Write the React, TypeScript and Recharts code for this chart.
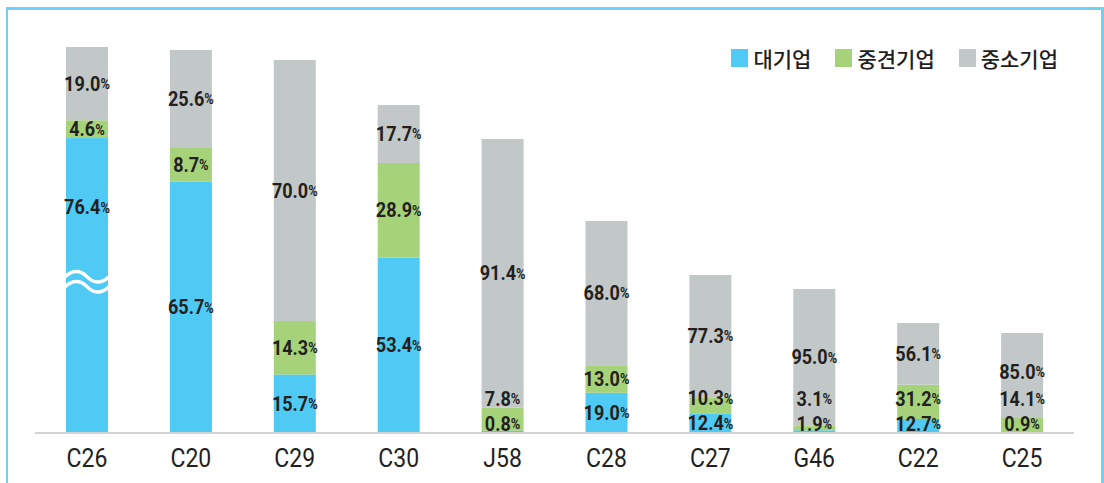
import { Bar, BarChart, XAxis, YAxis } from "recharts"

const categories = ["C26", "C20", "C29", "C30", "J58", "C28", "C27", "G46", "C22", "C25"]
// relative bar height (C25 = 100); C26 is drawn cut off
const barTotals = [386, 383, 373, 328, 294, 212, 158, 144, 110, 100]
const largePct = [76.4, 65.7, 15.7, 53.4, 0.8, 19.0, 12.4, 1.9, 12.7, 0.9]
const midPct = [4.6, 8.7, 14.3, 28.9, 7.8, 13.0, 10.3, 3.1, 31.2, 14.1]
const smallPct = [19.0, 25.6, 70.0, 17.7, 91.4, 68.0, 77.3, 95.0, 56.1, 85.0]
const brokenCategory = "C26"

const seriesNames = ["대기업", "중견기업", "중소기업"]

const COLORS = {
  large: "#4ecaf4",
  mid: "#a6d279",
  small: "#c2c7c7",
}

const rows = categories.map((name, i) => ({
  name,
  large: (barTotals[i] * largePct[i]) / 100,
  mid: (barTotals[i] * midPct[i]) / 100,
  small: (barTotals[i] * smallPct[i]) / 100,
  largePct: largePct[i],
  midPct: midPct[i],
  smallPct: smallPct[i],
  broken: name === brokenCategory,
}))

const BREAK_AT = 0.47
const FONT = "Roboto, sans-serif"
const TEXT = "#231f20"

function wave(x: number, w: number, y0: number) {
  return `M ${x - 1} ${y0} C ${x + w * 0.15} ${y0 - 7}, ${x + w * 0.35} ${y0 - 7}, ${x + w * 0.5} ${y0} C ${x + w * 0.65} ${y0 + 7}, ${x + w * 0.85} ${y0 + 7}, ${x + w + 1} ${y0}`
}

function LargeShape(props: any) {
  const { x, y, width, height, fill, payload } = props
  const yb = y + height * BREAK_AT
  return (
    <g>
      <rect x={x} y={y} width={width} height={height} fill={fill} />
      {payload.broken && (
        <g fill="none" stroke="#fff" strokeWidth={3.5}>
          <path d={wave(x, width, yb)} />
          <path d={wave(x, width, yb + 10)} />
        </g>
      )}
    </g>
  )
}

// narrow the font a bit, the original uses a condensed DIN-like face
function PctText({ x, y, v }: { x: number; y: number; v: number }) {
  return (
    <g transform={`translate(${x} ${y}) scale(0.86 1)`}>
      <text
        x={0}
        y={0}
        textAnchor="middle"
        dominantBaseline="central"
        fill={TEXT}
        fontFamily={FONT}
        fontWeight={700}
        fontSize={21}
      >
        {v.toFixed(1)}
        <tspan fontSize={15}>%</tspan>
      </text>
    </g>
  )
}

function CatTick(props: any) {
  const { x, y, payload } = props
  return (
    <g transform={`translate(${x} ${y}) scale(0.92 1)`}>
      <text x={0} y={0} dy="0.71em" textAnchor="middle" fill={TEXT} fontFamily={FONT} fontSize={25}>
        {payload.value}
      </text>
    </g>
  )
}

// top segment: draws its rect, then every label of the stack so they sit above all bars
function SmallShape(props: any) {
  const { x, y, width, height, fill, payload } = props
  const ppu = height / payload.small
  const lh = payload.large * ppu
  const mh = payload.mid * ppu
  const base = y + height + lh + mh
  const cx = x + width / 2

  let largeY = Math.min(base - lh / 2, base - 9)
  if (payload.broken) largeY = base - lh + (lh * BREAK_AT) / 2
  const midY = Math.min(base - lh - mh / 2, largeY - 25)
  const smallY = Math.min(y + height / 2, midY - 27)

  return (
    <g>
      <rect x={x} y={y} width={width} height={height} fill={fill} />
      <PctText x={cx} y={smallY} v={payload.smallPct} />
      <PctText x={cx} y={midY} v={payload.midPct} />
      <PctText x={cx} y={largeY} v={payload.largePct} />
    </g>
  )
}

function LegendBox() {
  const colors = [COLORS.large, COLORS.mid, COLORS.small]
  return (
    <div
      style={{
        position: "absolute",
        top: 43,
        right: 46,
        display: "flex",
        alignItems: "center",
        gap: 24,
        fontFamily: "'Noto Sans CJK KR', sans-serif",
        fontWeight: 500,
        fontSize: 21,
        color: TEXT,
      }}
    >
      {seriesNames.map((n, i) => (
        <div key={n} style={{ display: "flex", alignItems: "center", gap: 5 }}>
          <span style={{ width: 17, height: 18, background: colors[i], display: "inline-block" }} />
          <span>{n}</span>
        </div>
      ))}
    </div>
  )
}

export default function App() {
  return (
    <div style={{ position: "absolute", left: 0, top: 0, width: 1104, height: 483, background: "#fff", overflow: "hidden" }}>
      <div
        style={{
          position: "absolute",
          left: 6,
          top: 7,
          width: 1098,
          height: 500,
          boxSizing: "border-box",
          borderLeft: "2px solid #6fd0f6",
          borderTop: "3px solid #6fd0f6",
          borderRight: "3px solid #6fd0f6",
        }}
      />
      <BarChart
        width={1104}
        height={483}
        data={rows}
        margin={{ top: 33, right: 30, left: 35, bottom: 0 }}
        barSize={42}
        style={{ position: "absolute", left: 0, top: 0 }}
      >
        <XAxis
          dataKey="name"
          height={50}
          tickLine={false}
          tickMargin={10}
          axisLine={{ stroke: "#d2d2d2", strokeWidth: 2 }}
          tick={<CatTick />}
          interval={0}
        />
        <YAxis hide domain={[0, 400]} />
        <Bar dataKey="large" stackId="a" fill={COLORS.large} shape={LargeShape} isAnimationActive={false} />
        <Bar dataKey="mid" stackId="a" fill={COLORS.mid} isAnimationActive={false} />
        <Bar dataKey="small" stackId="a" fill={COLORS.small} shape={SmallShape} isAnimationActive={false} />
      </BarChart>
      <LegendBox />
    </div>
  )
}
